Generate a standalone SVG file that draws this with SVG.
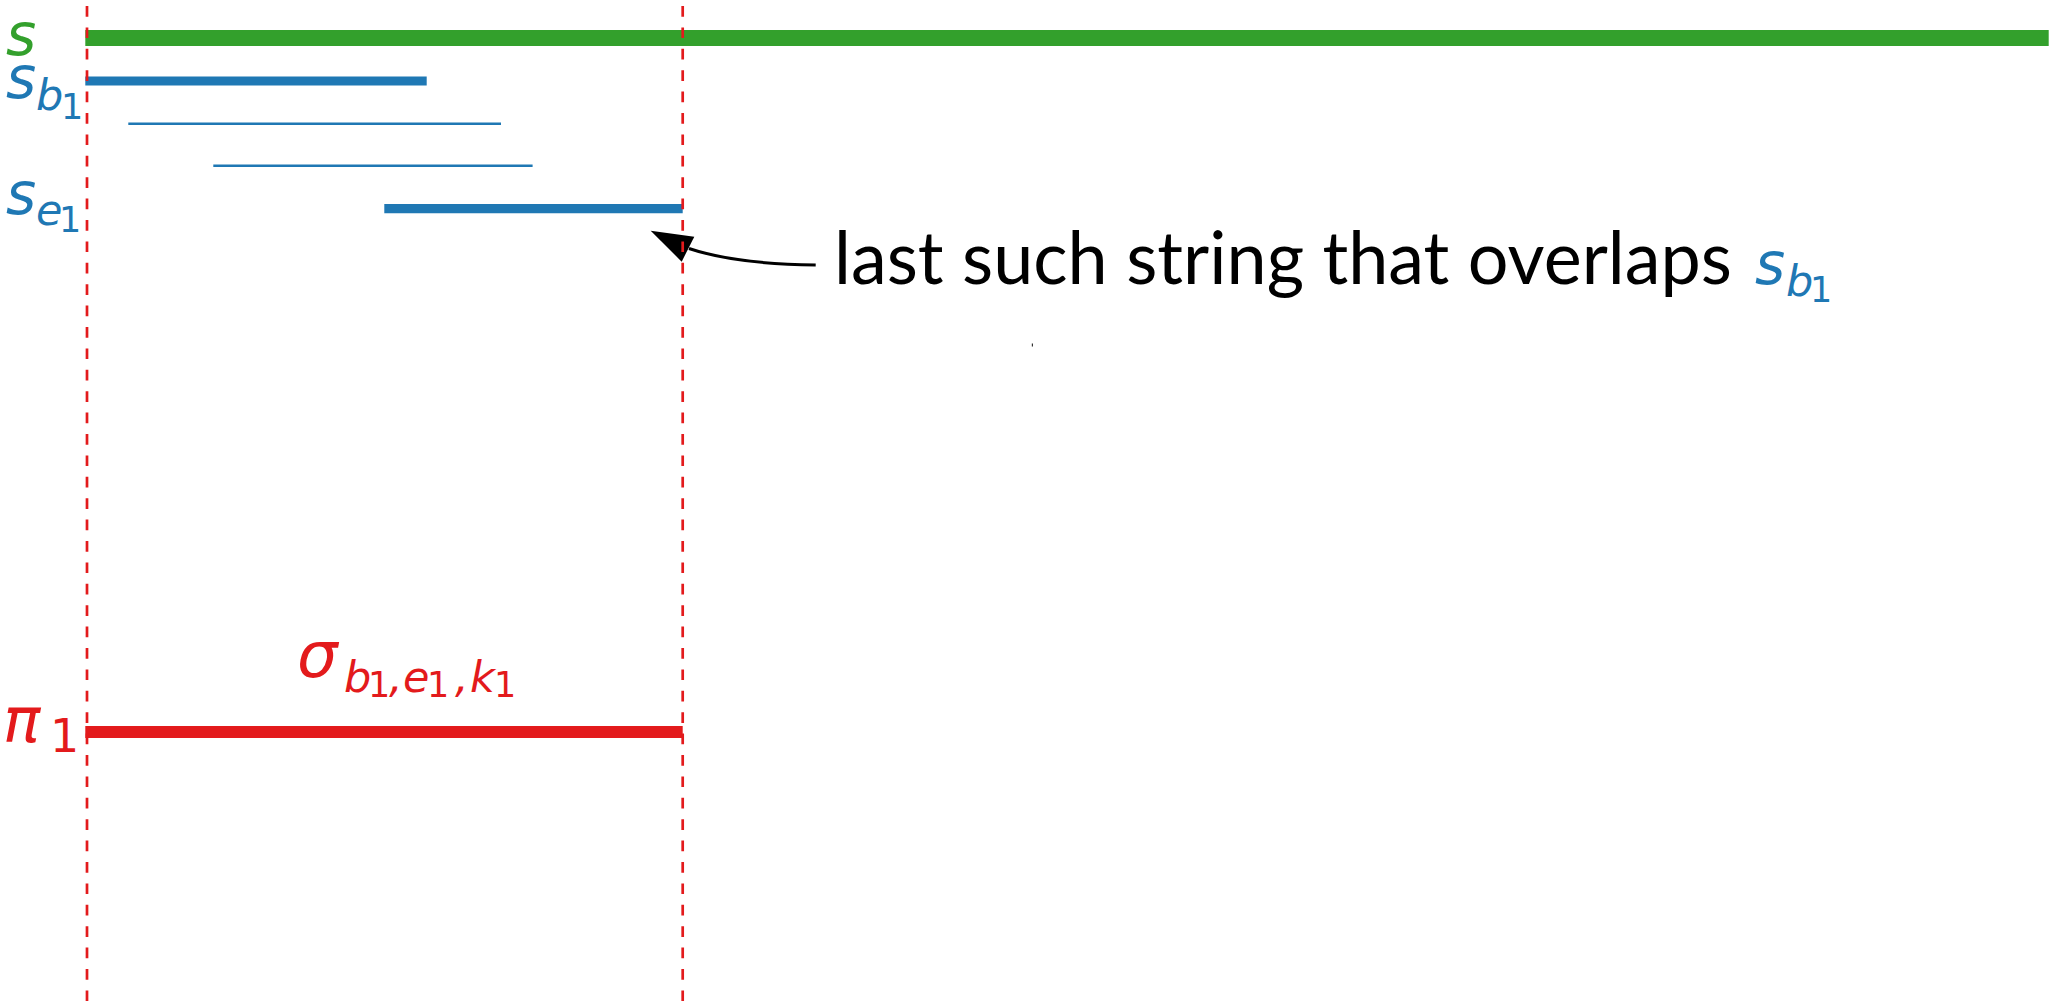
<svg xmlns="http://www.w3.org/2000/svg" width="2057" height="1001" viewBox="0 0 2057 1001">
  <style>
    .math { font-family: "DejaVu Sans", sans-serif; font-style: italic; }
    .num { font-family: "DejaVu Sans", sans-serif; font-style: normal; }
    .big { font-size: 58px; }
    .sub { font-size: 43px; }
    .subsub { font-size: 35px; }
    .green { fill: #33a02c; }
    .blue { fill: #1f78b4; }
    .red { fill: #e31a1c; }
    .seg { fill: none; stroke-linecap: butt; }
    .guide { stroke: #e31a1c; stroke-width: 2.7; stroke-dasharray: 10.7 10.7; fill: none; }
    .note { font-family: "Lato", "Liberation Sans", sans-serif; font-size: 74px; fill: #000; }
  </style>
  <rect width="2057" height="1001" fill="#fff"/>

  <!-- whole string s -->
  <g id="string-s">
    <line class="seg" x1="85.3" y1="38" x2="2048.7" y2="38" stroke="#33a02c" stroke-width="16"/>
    <text class="math big green" x="6" y="55">s</text>
  </g>

  <!-- s_b1 -->
  <g id="string-sb1">
    <line class="seg" x1="85.3" y1="81" x2="426.7" y2="81" stroke="#1f78b4" stroke-width="9"/>
    <text class="math big blue" x="6" y="98">s</text>
    <text class="math sub blue" x="36" y="110">b</text>
    <text class="num subsub blue" x="61" y="119">1</text>
  </g>

  <!-- intermediate overlapping strings -->
  <g id="string-mid1">
    <line class="seg" x1="128.3" y1="123.8" x2="501" y2="123.8" stroke="#1f78b4" stroke-width="2.5"/>
  </g>
  <g id="string-mid2">
    <line class="seg" x1="213.3" y1="165.7" x2="532.6" y2="165.7" stroke="#1f78b4" stroke-width="2.5"/>
  </g>

  <!-- s_e1 -->
  <g id="string-se1">
    <line class="seg" x1="384.3" y1="208.7" x2="682.7" y2="208.7" stroke="#1f78b4" stroke-width="9.3"/>
    <text class="math big blue" x="6" y="214">s</text>
    <text class="math sub blue" x="36" y="225">e</text>
    <text class="num subsub blue" x="59" y="232">1</text>
  </g>

  <!-- pi_1 with sigma label -->
  <g id="pi1">
    <line class="seg" x1="85.3" y1="732" x2="682.7" y2="732" stroke="#e31a1c" stroke-width="12"/>
    <text class="math red" x="3" y="742" font-size="62">π</text>
    <text class="num red" x="50" y="752" font-size="46">1</text>
  </g>
  <g id="sigma-label">
    <text class="math red" x="297" y="677" font-size="64">σ</text>
    <text class="math sub red" x="344" y="692">b</text>
    <text class="num subsub red" x="368" y="697">1</text>
    <text class="math sub red" x="389" y="692">,</text>
    <text class="math sub red" x="403" y="692">e</text>
    <text class="num subsub red" x="427" y="697">1</text>
    <text class="math sub red" x="455" y="692">,</text>
    <text class="math sub red" x="470" y="692">k</text>
    <text class="num subsub red" x="494" y="697">1</text>
  </g>

  <!-- annotation -->
  <g id="annotation">
    <text class="note" x="834" y="284" textLength="898" lengthAdjust="spacingAndGlyphs">last such string that overlaps</text>
    <text class="math big blue" x="1755" y="284">s</text>
    <text class="math sub blue" x="1786" y="296">b</text>
    <text class="num subsub blue" x="1810" y="302">1</text>
  </g>

  <!-- stray mark -->
  <rect x="1031.8" y="343.5" width="1.2" height="3" fill="#333"/>

  <!-- connectors -->
  <g id="connectors">
    <path d="M815.7,265 Q735,264 689,248.5" fill="none" stroke="#000" stroke-width="3"/>
    <polygon points="650.7,230.7 694.3,236.7 681.7,261.7" fill="#000"/>
  </g>

  <!-- dashed boundaries -->
  <g id="guides">
    <line class="guide" x1="87" y1="6" x2="87" y2="1001"/>
    <line class="guide" x1="682.7" y1="6" x2="682.7" y2="1001"/>
  </g>
</svg>
